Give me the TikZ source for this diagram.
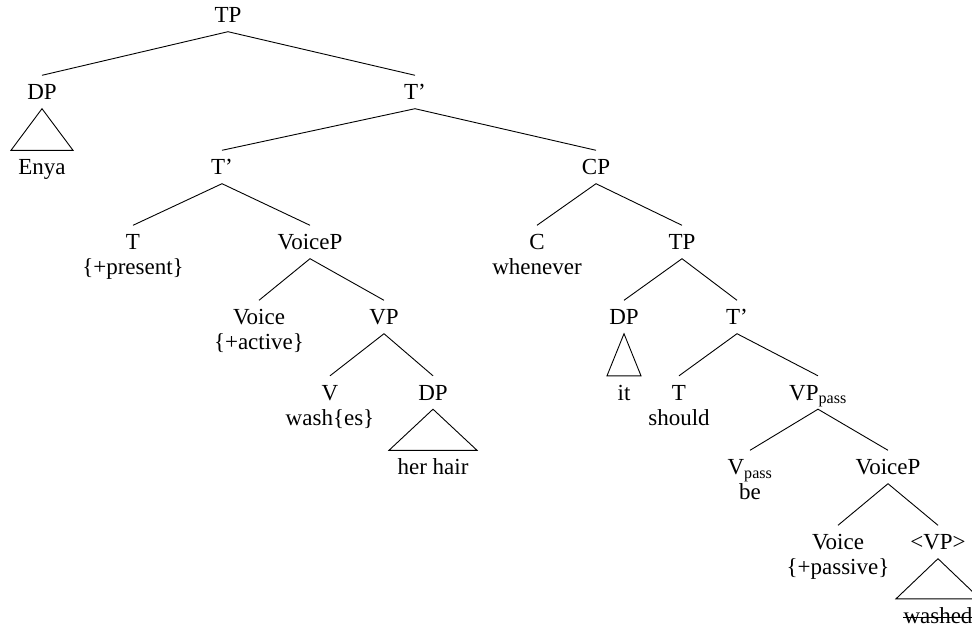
\documentclass[tikz,border=0pt]{standalone}
\usepackage{fontspec}
\setmainfont{Liberation Serif}
% two centred lines whose baseline is that of the first line
\newcommand\twolines[2]{\begin{tabular}[t]{@{}c@{}}#1\\#2\end{tabular}}
\begin{document}
\begin{tikzpicture}[x=1pt,y=-1pt,
  lab/.style={anchor=base, inner xsep=0pt, inner ysep=9pt,
    text height=15pt, text depth=0pt, font=\fontsize{23}{25}\selectfont},
  branch/.style={line width=0.9pt},
  roof/.style={line width=0.9pt, line join=miter}]
\useasboundingbox (0,0) rectangle (972,626);
\clip (0,0) rectangle (972,626);

% labels
\node[lab] (tp)      at (228,22.5)  {TP};
\node[lab] (dp)      at (42,99.5)   {DP};
\node[lab] (tbar)    at (415,99.5)  {T’};
\node[lab] (enya)    at (42,174.5)  {Enya};
\node[lab] (tbarb)   at (222,174.5) {T’};
\node[lab] (cp)      at (596,174.5) {CP};
\node[lab] (t)       at (133,249.5) {\twolines{T}{\{+present\}}};
\node[lab] (voicep)  at (310,249.5) {VoiceP};
\node[lab] (c)       at (537,249.5) {\twolines{C}{whenever}};
\node[lab] (tpb)     at (682,249.5) {TP};
\node[lab] (voice)   at (259,324.5) {\twolines{Voice}{\{+active\}}};
\node[lab] (vp)      at (384,324.5) {VP};
\node[lab] (dpb)     at (624,324.5) {DP};
\node[lab] (tbarc)   at (737,324.5) {T’};
\node[lab] (v)       at (330,400)   {\twolines{V}{wash\{es\}}};
\node[lab] (dpc)     at (433,400)   {DP};
\node[lab] (it)      at (624,400)   {it};
\node[lab] (tb)      at (679,400)   {\twolines{T}{should}};
\node[lab] (vppass)  at (818,400)   {VP\textsubscript{pass}};
\node[lab] (herhair) at (433,474.5) {her hair};
\node[lab] (vpass)   at (750,474.5) {\twolines{V\textsubscript{pass}}{be}};
\node[lab] (voicepb) at (888,474.5) {VoiceP};
\node[lab] (voiceb)  at (838,549.5) {\twolines{Voice}{\{+passive\}}};
\node[lab] (vpt)     at (938,549.5) {<VP>};
\node[lab] (washed)  at (938,623)   {washed};
% strike-through of the deleted copy
\draw[line width=0.9pt] ([yshift=6pt]washed.base west) -- ([yshift=6pt]washed.base east);

% branches
\draw[branch] (dp.north) -- (tp.south) -- (tbar.north);
\draw[branch] (tbarb.north) -- (tbar.south) -- (cp.north);
\draw[branch] (t.north) -- (tbarb.south) -- (voicep.north);
\draw[branch] (voice.north) -- (voicep.south) -- (vp.north);
\draw[branch] (v.north) -- (vp.south) -- (dpc.north);
\draw[branch] (c.north) -- (cp.south) -- (tpb.north);
\draw[branch] (dpb.north) -- (tpb.south) -- (tbarc.north);
\draw[branch] (tb.north) -- (tbarc.south) -- (vppass.north);
\draw[branch] (vpass.north) -- (vppass.south) -- (voicepb.north);
\draw[branch] (voiceb.north) -- (voicepb.south) -- (vpt.north);

% triangles over unanalysed constituents
\draw[roof] (dp.south) -- ([xshift=-31pt]enya.north) -- ([xshift=31pt]enya.north) -- cycle;
\draw[roof] (dpc.south) -- ([xshift=-44pt]herhair.north) -- ([xshift=44pt]herhair.north) -- cycle;
\draw[roof] (dpb.south) -- ([xshift=-17pt]it.north) -- ([xshift=17pt]it.north) -- cycle;
\draw[roof] (vpt.south) -- ([xshift=-42pt]washed.north) -- ([xshift=42pt]washed.north) -- cycle;
\end{tikzpicture}
\end{document}
